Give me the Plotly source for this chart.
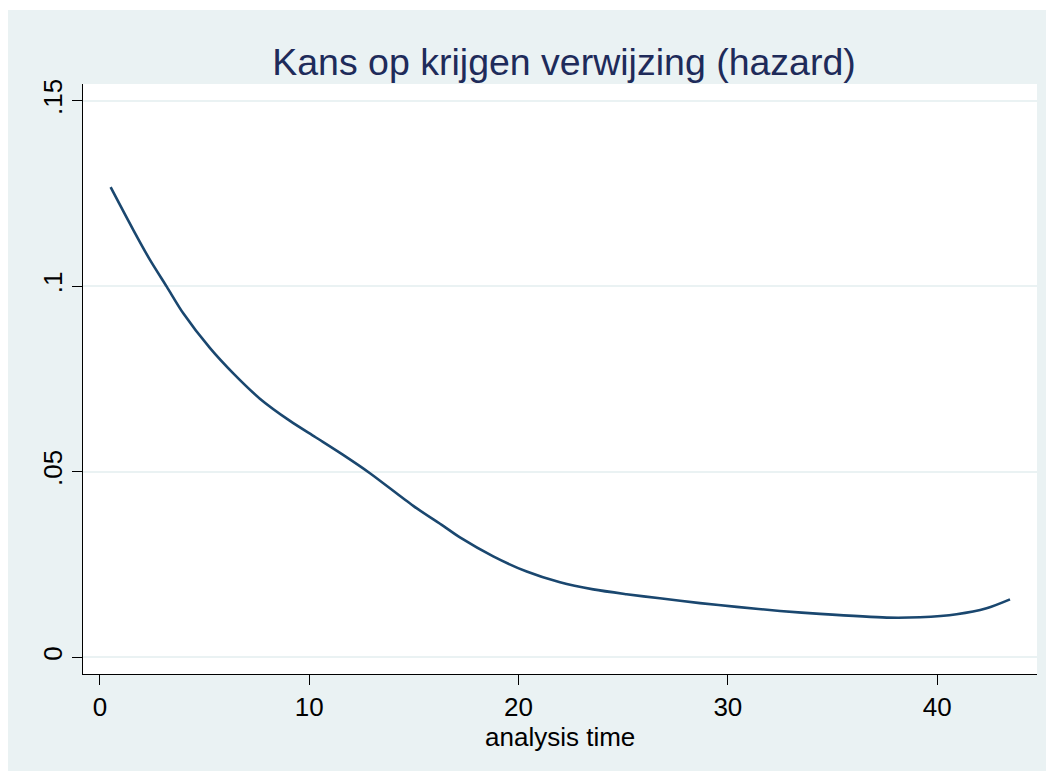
import plotly.graph_objects as go

# analysis time (x) and smoothed hazard (y)
time = [0.51, 1.59, 2.39, 3.19, 3.98, 5.26, 6.37, 7.64, 9.08, 10.3, 11.6,
        12.9, 14.97, 16.4, 17.2, 18.79, 20.39, 21.98, 23.57, 25.16, 26.75, 28.67,
        30.42, 32.49, 34.4, 37.59, 39.18, 40.93, 42.36, 43.48]
hazard = [0.1267, 0.1152, 0.1071, 0.0999, 0.0927, 0.0833, 0.0765, 0.0697, 0.0637,
          0.0593, 0.0546, 0.0496, 0.0408, 0.0354, 0.0323, 0.0272, 0.0231, 0.0202,
          0.0183, 0.0170, 0.0159, 0.0146, 0.0136, 0.0125, 0.0117, 0.0107,
          0.0108, 0.0116, 0.0132, 0.0156]

x_ticks = [0, 10, 20, 30, 40]
y_ticks = [0, 0.05, 0.1, 0.15]
y_labels = ["0", ".05", ".1", ".15"]

title_text = "Kans op krijgen verwijzing (hazard)"
x_title = "analysis time"

# the page body adds an 8px margin, so the figure is drawn at (8, 8)
W, H = 1046, 763
L, R, T, B = 75, 17, 76, 97
pw, ph = W - L - R, H - T - B

bg = "#EAF2F3"

fig = go.Figure()
fig.add_trace(go.Scatter(x=time, y=hazard, mode="lines",
                         line=dict(color="#1a476f", width=2.6, shape="spline", smoothing=0.8),
                         showlegend=False, hoverinfo="skip"))

fig.update_layout(
    width=W, height=H,
    margin=dict(l=L, r=R, t=T, b=B, autoexpand=False),
    paper_bgcolor=bg,
    plot_bgcolor="white",
    font=dict(family="Liberation Sans, Arial, sans-serif", color="black", size=26),
    title=dict(text=title_text, x=(564 - 8) / W, xanchor="center", xref="container",
               y=1 - (62 - 8) / H, yanchor="middle", yref="container",
               font=dict(size=37.5, color="#1e2b5a")),
    xaxis=dict(range=[-0.81, 44.77], tickvals=x_ticks, ticktext=[str(v) for v in x_ticks],
               showgrid=False, zeroline=False, showline=True, linecolor="black", linewidth=1,
               ticks="outside", ticklen=10, tickcolor="black", tickwidth=1,
               tickfont=dict(size=26)),
    yaxis=dict(range=[-0.0045, 0.1545], tickvals=y_ticks, ticktext=y_labels,
               tickangle=-90,
               showgrid=True, gridcolor=bg, gridwidth=1.5,
               zeroline=False, showline=True, linecolor="black", linewidth=1,
               ticks="outside", ticklen=10, tickcolor="black", tickwidth=1,
               tickfont=dict(size=26)),
    annotations=[
        dict(text=x_title, xref="paper", yref="paper", x=0.5, y=-63 / ph,
             xanchor="center", yanchor="middle", showarrow=False,
             font=dict(size=26, color="black")),
    ],
    shapes=[
        # thin white strip at the very top, as in the reference
        dict(type="rect", xref="paper", yref="paper",
             x0=-L / pw - 0.01, x1=(W - L) / pw + 0.01, y0=1 + (T - 2) / ph, y1=1 + T / ph + 0.01,
             fillcolor="white", line=dict(width=0), layer="above"),
    ],
)

fig.write_html("out.html")
